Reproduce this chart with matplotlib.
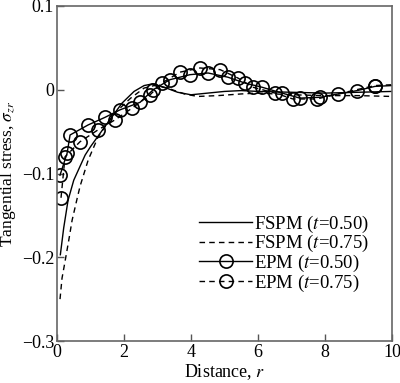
import matplotlib
matplotlib.use("Agg")
import matplotlib.pyplot as plt

plt.rcParams['font.family'] = ['Liberation Serif', 'DejaVu Serif']
plt.rcParams['mathtext.fontset'] = 'stix'

# FSPM curves
fspm50_r = [0.1, 0.2, 0.33, 0.5, 0.84, 1.0, 1.43, 1.94, 2.3, 2.6, 2.85, 3.2, 3.6, 4.0, 4.5, 5.0, 5.5, 6.0, 7.0, 8.0, 9.0, 10.0]
fspm50_s = [-0.197, -0.165, -0.132, -0.108, -0.078, -0.068, -0.044, -0.016, -0.002, 0.005, 0.007, 0.003, -0.003, -0.006, -0.004, -0.002, -0.001, -0.002, -0.003, -0.004, -0.003, -0.002]

fspm75_r = [0.09, 0.15, 0.24, 0.35, 0.45, 0.6, 0.69, 0.93, 1.22, 1.5, 1.8, 2.2, 2.6, 2.9, 3.3, 3.8, 4.2, 4.8, 5.5, 6.0, 7.0, 8.0, 9.0, 10.0]
fspm75_s = [-0.25, -0.225, -0.205, -0.18, -0.156, -0.13, -0.115, -0.084, -0.057, -0.04, -0.025, -0.01, 0.002, 0.005, 0.002, -0.005, -0.008, -0.007, -0.005, -0.004, -0.006, -0.007, -0.007, -0.008]

# EPM points
epm50_r = [0.09, 0.30, 0.39, 0.93, 1.43, 1.88, 2.48, 2.87, 3.37, 3.97, 4.51, 5.10, 5.61, 6.12, 6.72, 7.25, 7.85, 8.96, 9.49, 10.0]
epm50_s = [-0.102, -0.076, -0.054, -0.042, -0.033, -0.024, -0.015, 0.000, 0.012, 0.018, 0.020, 0.015, 0.008, 0.003, -0.004, -0.010, -0.009, -0.001, 0.004, 0.005]
epm50_mark = list(range(len(epm50_r) - 1))

epm75_r = [0.12, 0.24, 0.69, 1.22, 1.73, 2.24, 2.78, 3.13, 3.67, 4.27, 4.87, 5.40, 5.85, 6.51, 7.04, 7.76, 8.39, 9.49, 10.0]
epm75_s = [-0.129, -0.080, -0.062, -0.048, -0.036, -0.022, -0.006, 0.008, 0.021, 0.026, 0.024, 0.014, 0.003, -0.004, -0.011, -0.011, -0.005, 0.005, 0.006]
epm75_mark = list(range(len(epm75_r) - 1))

xticks = [0, 2, 4, 6, 8, 10]
yticks = [-0.3, -0.2, -0.1, 0, 0.1]
yticklabels = ['\u22120.3', '\u22120.2', '\u22120.1', '0', '0.1']

fig = plt.figure(figsize=(4.0, 3.83), dpi=100)
ax = fig.add_axes([57/400, 1-341/383, 335/400, 335/383])

ax.plot(fspm50_r, fspm50_s, '-', color='black', lw=1.0, label='FSPM ($t$=0.50)')
ax.plot(fspm75_r, fspm75_s, '--', color='black', lw=1.0, dashes=(4, 3), label='FSPM ($t$=0.75)')
ax.plot(epm50_r, epm50_s, '-', color='black', lw=1.0, marker='o', ms=9.5, mfc='none', mec='black', mew=1.2,
        markevery=epm50_mark, label='EPM ($t$=0.50)')
ax.plot(epm75_r, epm75_s, '--', color='black', lw=1.0, dashes=(4, 3), marker='o', ms=9.5, mfc='none', mec='black', mew=1.2,
        markevery=epm75_mark, label='EPM ($t$=0.75)')

ax.set_xlim(0, 10)
ax.set_ylim(-0.3, 0.1)
ax.set_xticks(xticks)
ax.set_yticks(yticks)
ax.set_yticklabels(yticklabels)
ax.tick_params(direction='in', length=5, width=1, labelsize=13, color='#555555', pad=2)
for s in ax.spines.values():
    s.set_color('#666666')
    s.set_linewidth(1.2)

ax.set_xlabel('Distance, $r$', fontsize=13, labelpad=1)
ax.set_ylabel('Tangential stress, $\\sigma_{zr}$', fontsize=12.5)
ax.yaxis.set_label_coords(-0.115, 0.5)

ax.legend(loc='upper left', bbox_to_anchor=(0.425, 0.38), frameon=False, fontsize=13.5,
          handlelength=2.8, handletextpad=0.1, labelspacing=-0.08, borderpad=0, borderaxespad=0)

fig.savefig('out.png', dpi=100)
